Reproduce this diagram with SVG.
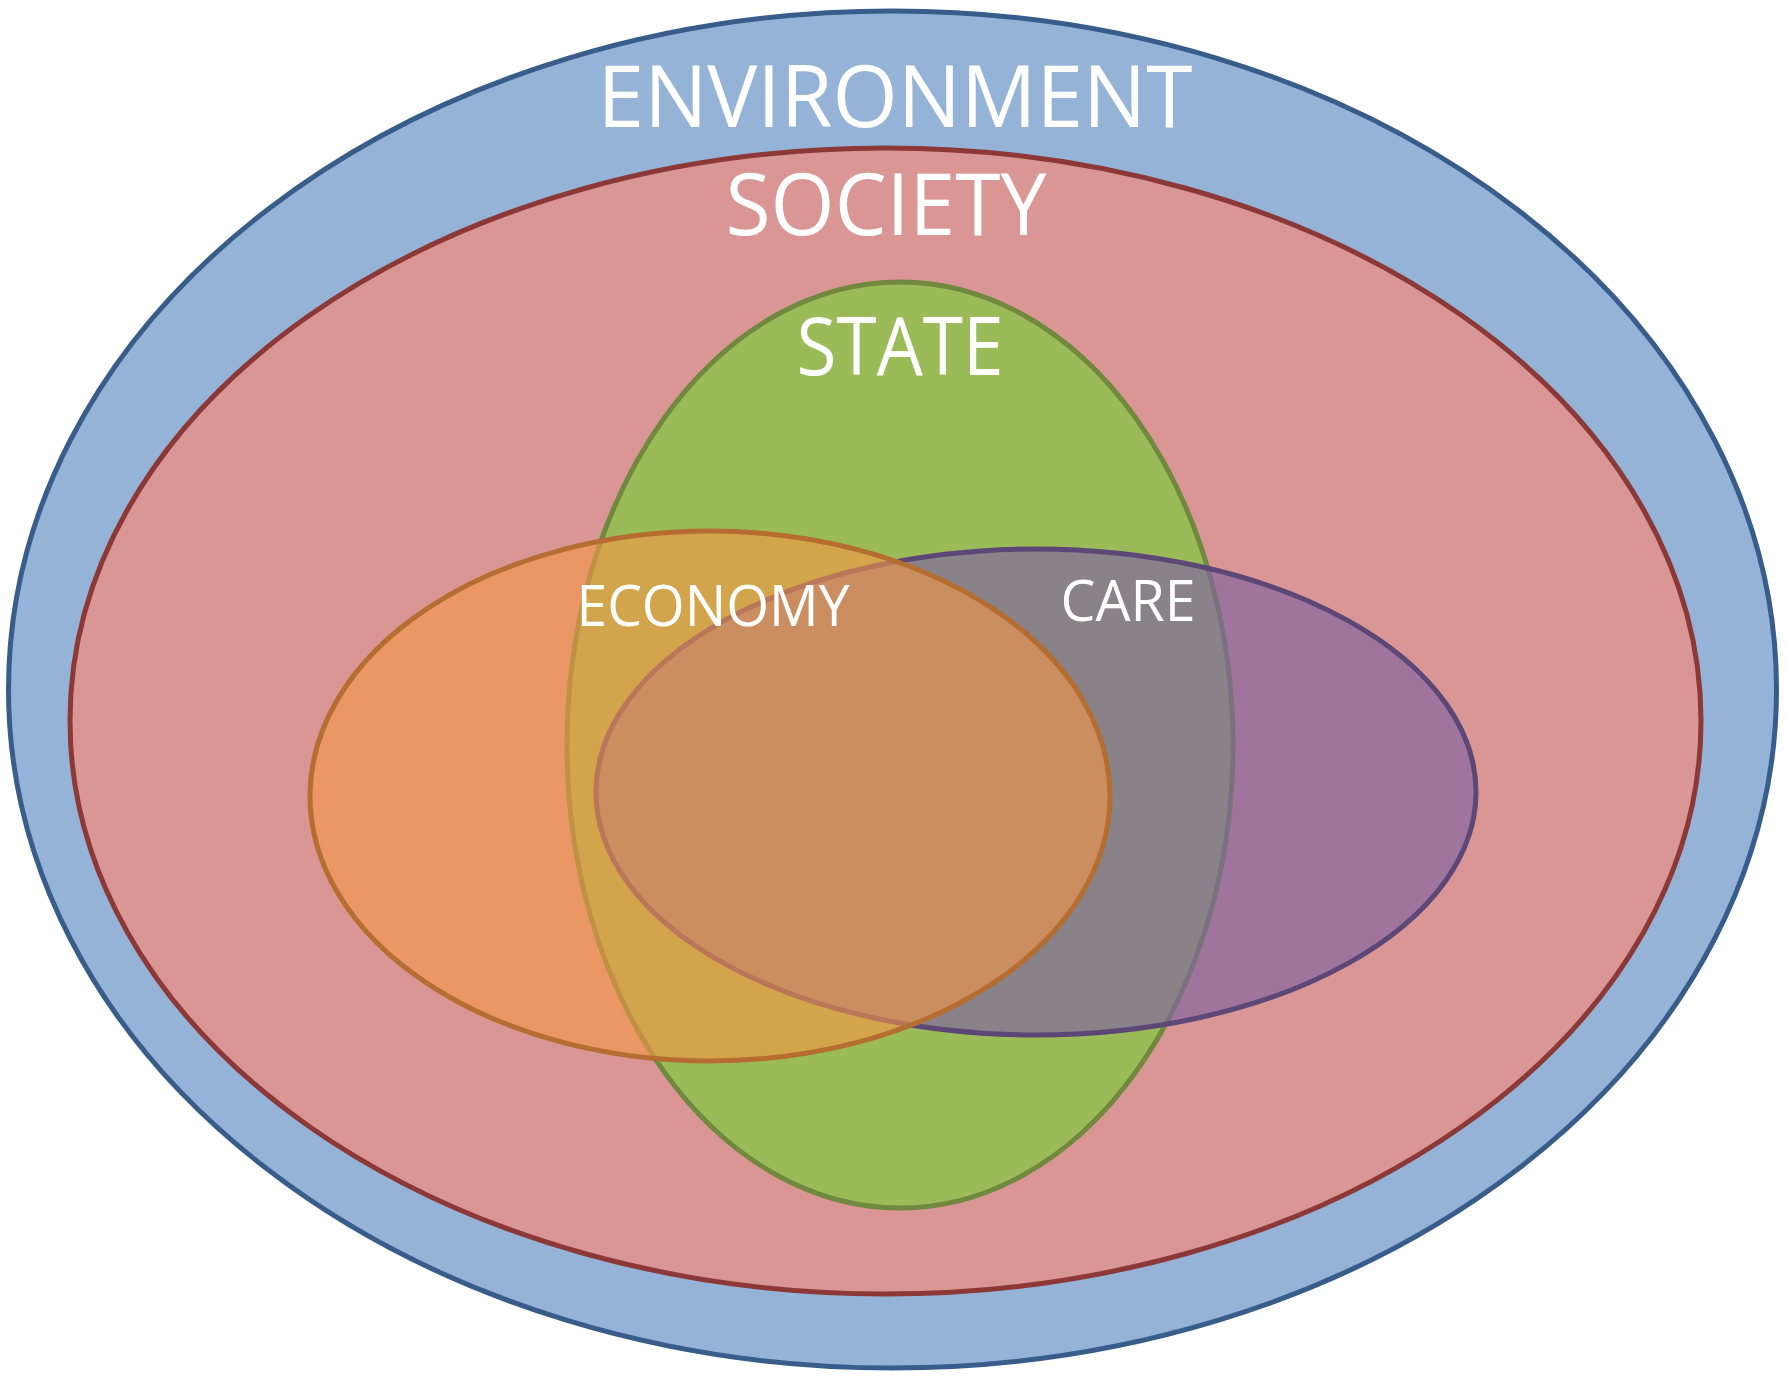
<svg xmlns="http://www.w3.org/2000/svg" width="1787" height="1375" viewBox="0 0 1787 1375">
  <style>
    .label { font-family: "Open Sans", "Noto Sans", "Liberation Sans", sans-serif; fill: #FFFFFF; text-anchor: middle; }
    .shape { stroke-width: 5; }
  </style>
  <rect width="1787" height="1375" fill="#FFFFFF"/>

  <g id="environment">
    <ellipse class="shape" cx="892.5" cy="689.5" rx="884" ry="678.5" fill="#95B3D7" stroke="#385D8A"/>
    <text class="label" x="895" y="127" font-size="86" textLength="595" lengthAdjust="spacingAndGlyphs">ENVIRONMENT</text>
  </g>

  <g id="society">
    <ellipse class="shape" cx="885.5" cy="721" rx="815.5" ry="573" fill="#D99694" stroke="#8C3836"/>
    <text class="label" x="886" y="235" font-size="86" textLength="321" lengthAdjust="spacingAndGlyphs">SOCIETY</text>
  </g>

  <g id="state">
    <ellipse class="shape" cx="900" cy="745" rx="333" ry="463" fill="#9BBB59" stroke="#71893F"/>
    <text class="label" x="900" y="375" font-size="80" textLength="207" lengthAdjust="spacingAndGlyphs">STATE</text>
  </g>

  <g id="care">
    <ellipse cx="1036" cy="792" rx="440" ry="243" fill="#8064A2" fill-opacity="0.65" stroke="#5C4776" stroke-width="5"/>
    <text class="label" x="1128" y="621" font-size="57" textLength="135" lengthAdjust="spacingAndGlyphs">CARE</text>
  </g>

  <g id="economy">
    <ellipse cx="710" cy="796" rx="400" ry="265" fill="#F79646" fill-opacity="0.6" stroke="#B66D31" stroke-width="5"/>
    <text class="label" x="713" y="626" font-size="56" textLength="273" lengthAdjust="spacingAndGlyphs">ECONOMY</text>
  </g>

  <g id="connectors"/>
</svg>
